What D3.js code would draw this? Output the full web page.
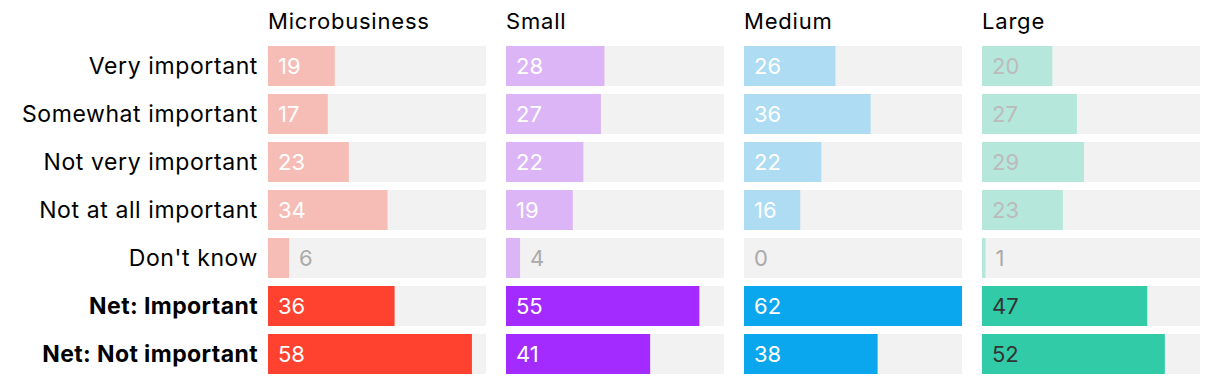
<!DOCTYPE html>
<html>
<head>
<meta charset="utf-8">
<script src="https://cdn.jsdelivr.net/npm/d3@7"></script>
<style>
  body { margin: 0; background: #fff; }
  text { font-family: Inter, "Open Sans", sans-serif; }
</style>
</head>
<body>
<script>
// categories (rows) and groups (panels)
var categories = ["Very important", "Somewhat important", "Not very important", "Not at all important", "Don't know", "Net: Important", "Net: Not important"]
var groups = ["Microbusiness", "Small", "Medium", "Large"]

// values per group, same order as categories
var microbusiness = [19, 17, 23, 34, 6, 36, 58]
var small = [28, 27, 22, 19, 4, 55, 41]
var medium = [26, 36, 22, 16, 0, 62, 38]
var large = [20, 27, 29, 23, 1, 47, 52]

var lightColors = ["#f6bdb6", "#dbb5f5", "#aedcf2", "#b5e8da"]
var darkColors = ["#ff4130", "#a32bff", "#0aa6ee", "#31cba8"]
var lightText = ["#ffffff", "#ffffff", "#ffffff", "#bdbaba"]
var darkText = ["#ffffff", "#ffffff", "#ffffff", "#333333"]

var series = [microbusiness, small, medium, large]

var W = 1220, H = 384
var margin = {top: 46, left: 268}
var panelW = 218, panelGap = 20

var svg = d3.select("body")
  .append("svg")
    .attr("width", W)
    .attr("height", H)

var y = d3.scaleBand()
    .domain(categories)
    .range([margin.top, margin.top + 7 * 48 - 8])
    .paddingInner(8 / 48)

var maxVal = d3.max(series, function(s) { return d3.max(s) })
var x = d3.scaleLinear()
    .domain([0, maxVal])
    .range([0, panelW])

// row labels
svg.append("g")
  .selectAll("text")
  .data(categories)
  .enter()
  .append("text")
    .attr("x", margin.left - 10)
    .attr("y", function(d) { return y(d) + y.bandwidth() / 2 + 8 })
    .attr("text-anchor", "end")
    .attr("font-size", 23)
    .attr("letter-spacing", function(d, i) { return i >= 5 ? 0.4 : 0.6 })
    .attr("font-weight", function(d, i) { return i >= 5 ? 700 : 400 })
    .attr("fill", "#000")
    .text(function(d) { return d })

groups.forEach(function(g, gi) {
  var x0 = margin.left + gi * (panelW + panelGap)
  var panel = svg.append("g")
      .attr("transform", "translate(" + x0 + ",0)")

  panel.append("text")
      .attr("x", 0)
      .attr("y", 29)
      .attr("font-size", 22)
      .attr("letter-spacing", 0.8)
      .attr("fill", "#000")
      .text(g)

  var rows = categories.map(function(c, i) { return {cat: c, v: series[gi][i], i: i} })

  // grey background bars
  panel.selectAll("rect.bg")
      .data(rows)
      .enter()
      .append("rect")
        .attr("class", "bg")
        .attr("x", 0)
        .attr("y", function(d) { return y(d.cat) })
        .attr("width", x(maxVal))
        .attr("height", y.bandwidth())
        .style("fill", "#f2f2f2")

  panel.selectAll("rect.bar")
      .data(rows)
      .enter()
      .append("rect")
        .attr("class", "bar")
        .attr("x", 0)
        .attr("y", function(d) { return y(d.cat) })
        .attr("width", function(d) { return x(d.v) })
        .attr("height", y.bandwidth())
        .style("fill", function(d) { return d.i >= 5 ? darkColors[gi] : lightColors[gi] })

  panel.selectAll("text.val")
      .data(rows)
      .enter()
      .append("text")
        .attr("class", "val")
        .attr("x", function(d) { return d.v < 8 ? x(d.v) + 10 : 10 })
        .attr("y", function(d) { return y(d.cat) + y.bandwidth() / 2 + 8 })
        .attr("font-size", 22)
        .attr("fill", function(d) {
          if (d.v < 8) return "#aaaaaa"
          return d.i >= 5 ? darkText[gi] : lightText[gi]
        })
        .text(function(d) { return d.v })
})
</script>
</body>
</html>
